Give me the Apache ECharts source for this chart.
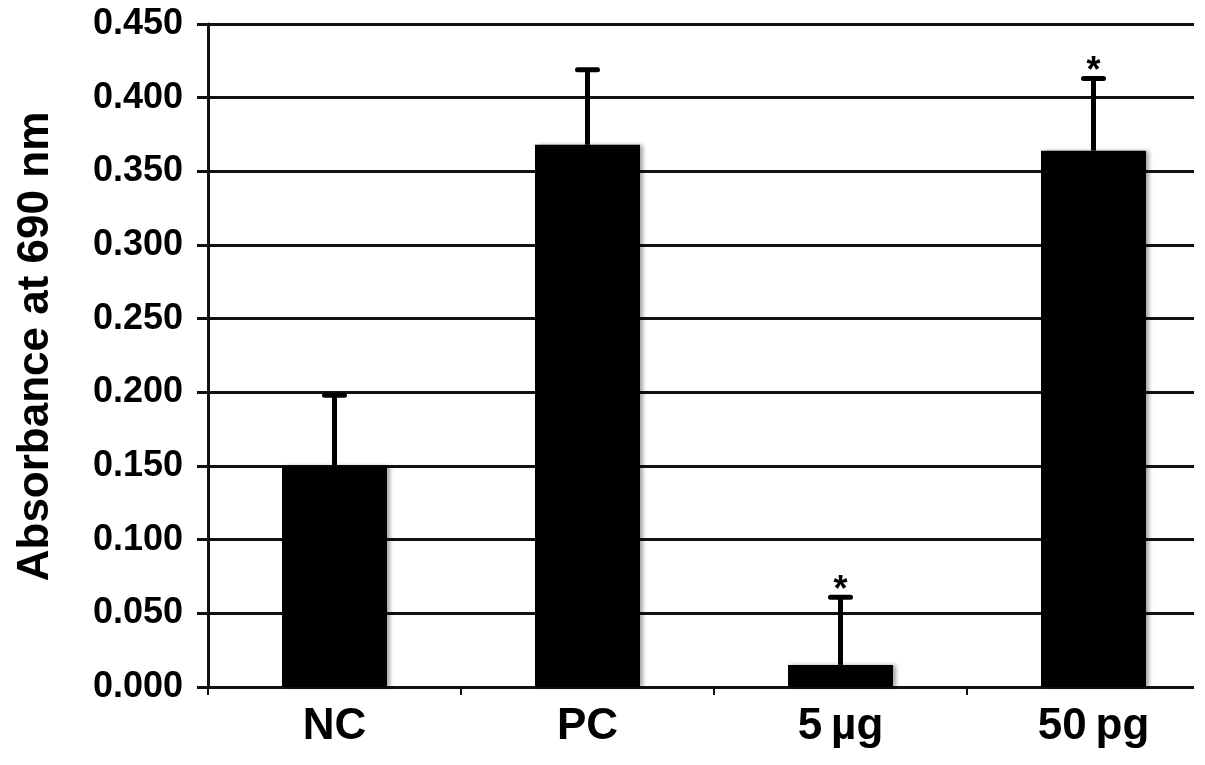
<!DOCTYPE html>
<html>
<head>
<meta charset="utf-8">
<script src="https://cdn.jsdelivr.net/npm/echarts@6/dist/echarts.min.js"></script>
<style>html,body{margin:0;padding:0;background:#fff}#c{width:1205px;height:765px}</style>
</head>
<body>
<div id="c"></div>
<script>
var categories = ['NC', 'PC', '5\u2009µg', '50\u2009pg'];
var means = [0.150, 0.368, 0.015, 0.364];
var errors = [0.048, 0.051, 0.046, 0.049];
var significance = ['', '', '*', '*'];
var yTicks = { min: 0, max: 0.45, interval: 0.05 };

var chart = echarts.init(document.getElementById('c'), null, { renderer: 'canvas' });
var FONT = '"Liberation Sans", Arial, sans-serif';
var errData = means.map(function (m, i) { return [i, m, m + errors[i], significance[i]]; });

chart.setOption({
  animation: false,
  backgroundColor: '#fff',
  grid: { left: 208, width: 1012, top: 24, bottom: 78, containLabel: false, outerBoundsMode: 'none' },
  xAxis: {
    type: 'category',
    data: categories,
    boundaryGap: true,
    axisLine: { show: true, lineStyle: { color: '#111', width: 3 } },
    axisTick: { show: true, length: 8, lineStyle: { color: '#111', width: 2 } },
    axisLabel: { color: '#000', fontFamily: FONT, fontWeight: 'bold', fontSize: 44, margin: 18 },
    splitLine: { show: false }
  },
  yAxis: {
    type: 'value',
    min: yTicks.min, max: yTicks.max, interval: yTicks.interval,
    name: 'Absorbance at 690 nm',
    nameLocation: 'middle',
    nameGap: 150,
    nameRotate: 90,
    nameTextStyle: { color: '#000', fontFamily: FONT, fontWeight: 'bold', fontSize: 44, padding: [0, 0, 0, 18] },
    axisLine: { show: true, lineStyle: { color: '#111', width: 3 } },
    axisTick: { show: true, inside: false, length: 11, lineStyle: { color: '#111', width: 3 } },
    axisLabel: {
      color: '#000', fontFamily: FONT, fontWeight: 'bold', fontSize: 36, margin: 25,
      formatter: function (v) { return v.toFixed(3); }
    },
    splitLine: { show: true, lineStyle: { color: '#111', width: 3 } }
  },
  series: [
    {
      type: 'bar',
      data: means,
      barWidth: 105,
      itemStyle: { color: '#000', shadowColor: 'rgba(0,0,0,0.35)', shadowBlur: 4, shadowOffsetX: 3 },
      z: 2
    },
    {
      type: 'custom',
      data: errData,
      z: 3,
      renderItem: function (params, api) {
        var x = api.coord([api.value(0), api.value(1)])[0];
        var yb = api.coord([api.value(0), api.value(1)])[1];
        var yt = api.coord([api.value(0), api.value(2)])[1];
        var children = [
          { type: 'line', shape: { x1: x, y1: yb, x2: x, y2: yt }, style: { stroke: '#000', lineWidth: 5 } },
          { type: 'line', shape: { x1: x - 10, y1: yt, x2: x + 10, y2: yt }, style: { stroke: '#000', lineWidth: 5, lineCap: 'round' } }
        ];
        var s = api.value(3);
        if (s) {
          children.push({ type: 'text', style: { text: s, x: x, y: yt + 12, fill: '#000', font: 'bold 36px ' + FONT, align: 'center', verticalAlign: 'bottom' } });
        }
        return { type: 'group', children: children };
      }
    }
  ],
  graphic: [
    { type: 'rect', right: 0, top: 0, shape: { width: 11, height: 765 }, style: { fill: '#fff' }, z: 100 }
  ]
});
</script>
</body>
</html>
